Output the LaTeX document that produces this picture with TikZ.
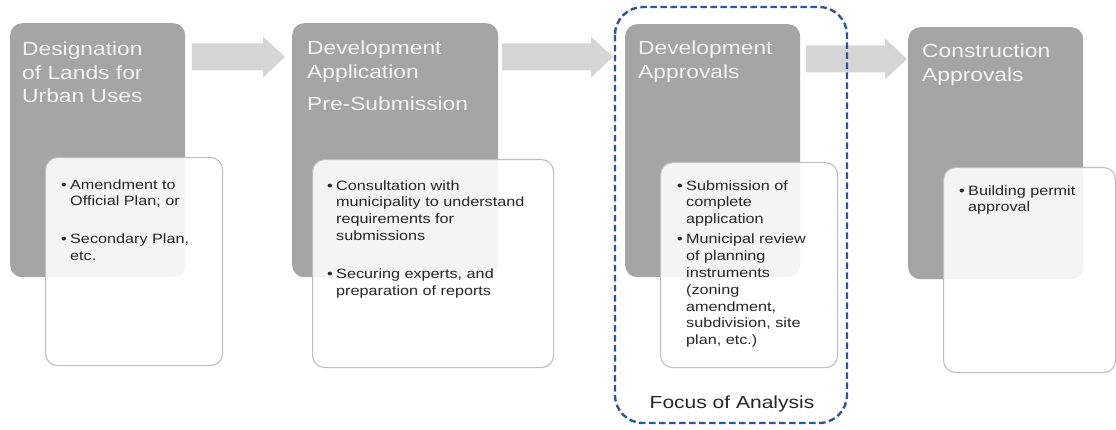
\documentclass[tikz,border=0pt]{standalone}
\usepackage{fontspec}
\setmainfont{Liberation Sans}[FakeStretch=1.2]
\usetikzlibrary{positioning,calc}

\definecolor{stagegrey}{HTML}{A5A5A5}
\definecolor{arrowgrey}{HTML}{D5D5D5}
\definecolor{boxline}{HTML}{BFBFBF}
\definecolor{titlewhite}{HTML}{F4F4F4}
\definecolor{focusblue}{HTML}{2F5597}

% bullet item with its lines in a hanging block, optional space before it
\newcommand{\blt}[2][0pt]{\par\vspace{#1}\noindent\makebox[9pt][l]{\textbullet}%
  \parbox[t]{\dimexpr\linewidth-9pt\relax}{\raggedright #2}}

% block arrow from one coordinate to another (same height)
\newcommand{\stagearrow}[2]{%
  \fill[arrowgrey] let \p1=(#1), \p2=(#2) in
    (\x1,\y1+13.5pt) -- (\x2-22pt,\y1+13.5pt) -- (\x2-22pt,\y1+20.5pt) -- (\x2,\y2)
    -- (\x2-22pt,\y1-20.5pt) -- (\x2-22pt,\y1-13.5pt) -- (\x1,\y1-13.5pt) -- cycle;}

\tikzset{
  stage/.style={fill=stagegrey, rounded corners=12pt, anchor=north west, inner sep=0pt},
  stagetitle/.style={text=titlewhite, font=\fontsize{19}{23.5}\selectfont, align=left,
    inner sep=0pt, anchor=north west},
  detail/.style={fill=white, fill opacity=0.88, draw=boxline, line width=1.1pt,
    rounded corners=12pt, anchor=north west, inner sep=0pt},
  points/.style={text=black!85, font=\fontsize{13.5}{16.9}\selectfont, align=left,
    inner sep=0pt, anchor=north west},
  focus/.style={draw=focusblue, line width=2.4pt, dash pattern=on 6.5pt off 3.5pt,
    rounded corners=28pt},
}

\begin{document}
\begin{tikzpicture}[x=1pt,y=-1pt]
\useasboundingbox (0,0) rectangle (1116,430);

% the four stages
\node[stage, minimum width=175pt, minimum height=254pt] (g1) at (10,23) {};
\node[stage, minimum width=206pt, minimum height=254pt] (g2) at (292,23) {};
\node[stage, minimum width=175pt, minimum height=253pt] (g3) at (625,24) {};
\node[stage, minimum width=175pt, minimum height=252pt] (g4) at (908,27) {};

\node[stagetitle, below right=19pt and 12pt of g1.north west] (t1)
  {Designation\\of Lands for\\Urban Uses};
\node[stagetitle, below right=18pt and 15pt of g2.north west] (t2)
  {Development\\Application\\[9pt]Pre-Submission};
\node[stagetitle, below right=17pt and 13pt of g3.north west] (t3)
  {Development\\Approvals};
\node[stagetitle, below right=17pt and 14pt of g4.north west] (t4)
  {Construction\\Approvals};

% arrows between stages
\coordinate (a1s) at (192,57);
\coordinate (a1e) at (285,57);
\coordinate (a2s) at (502,57);
\coordinate (a2e) at (613,57);
\coordinate (a3s) at (806,59);
\coordinate (a3e) at (907,59);
\stagearrow{a1s}{a1e}
\stagearrow{a2s}{a2e}
\stagearrow{a3s}{a3e}

% detail boxes
\node[detail, minimum width=177pt, minimum height=208pt] (w1) at (45,157) {};
\node[detail, minimum width=241pt, minimum height=208pt] (w2) at (312,159) {};
\node[detail, minimum width=177pt, minimum height=205pt] (w3) at (660,162) {};
\node[detail, minimum width=172pt, minimum height=205pt] (w4) at (943,167) {};

\node[points, text width=155pt, below right=15pt and 16pt of w1.north west] (p1)
  {\blt{Amendment to\\Official Plan; or}
   \blt[25pt]{Secondary Plan,\\etc.}};
\node[points, text width=222pt, below right=14pt and 15pt of w2.north west] (p2)
  {\blt{Consultation with\\municipality to understand\\requirements for\\submissions}
   \blt[27pt]{Securing experts, and\\preparation of reports}};
\node[points, text width=155pt, below right=11pt and 17pt of w3.north west] (p3)
  {\blt{Submission of\\complete\\application}
   \blt[6pt]{Municipal review\\of planning\\instruments\\(zoning\\amendment,\\subdivision, site\\plan, etc.)}};
\node[points, text width=150pt, below right=11pt and 16pt of w4.north west] (p4)
  {\blt{Building permit\\approval}};

% focus of analysis
\draw[focus] (615,7) rectangle (847,423);
\node[text=black!85, font=\fontsize{17.5}{20}\selectfont] (focuslabel) at (732,404)
  {Focus of Analysis};
\end{tikzpicture}
\end{document}
